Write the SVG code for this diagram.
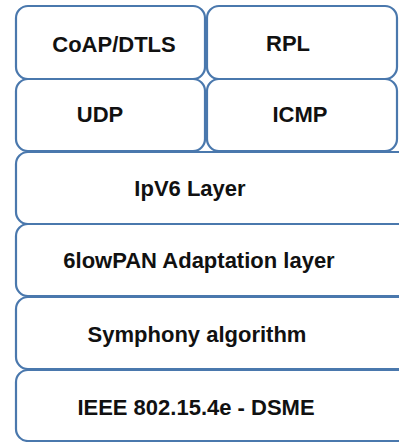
<svg xmlns="http://www.w3.org/2000/svg" width="399" height="442" viewBox="0 0 399 442">
<style>
.box{fill:#ffffff;stroke:#4a78ad;stroke-width:2.2}
.lbl{font-family:"Liberation Sans",Arial,sans-serif;font-weight:bold;font-size:22px;fill:#111111;text-anchor:middle}
</style>
<rect width="399" height="442" fill="#ffffff"/>
<g id="coap"><rect class="box" x="16" y="6" width="189" height="73" rx="12"/><text class="lbl" x="114" y="52">CoAP/DTLS</text></g>
<g id="rpl"><rect class="box" x="207" y="6" width="190" height="73" rx="12"/><text class="lbl" x="288" y="51">RPL</text></g>
<g id="udp"><rect class="box" x="16" y="79" width="189" height="72" rx="12"/><text class="lbl" x="100" y="122">UDP</text></g>
<g id="icmp"><rect class="box" x="207" y="79" width="190" height="72" rx="12"/><text class="lbl" x="300" y="122">ICMP</text></g>
<g id="ipv6"><rect class="box" x="16" y="152" width="400" height="72" rx="12"/><text class="lbl" x="190" y="196">IpV6 Layer</text></g>
<g id="sixlowpan"><rect class="box" x="16" y="224" width="400" height="72" rx="12"/><text class="lbl" x="199" y="268">6lowPAN Adaptation layer</text></g>
<g id="symphony"><rect class="box" x="16" y="297" width="400" height="72" rx="12"/><text class="lbl" x="197" y="342">Symphony algorithm</text></g>
<g id="dsme"><rect class="box" x="16" y="370" width="400" height="71" rx="12"/><text class="lbl" x="196" y="415">IEEE 802.15.4e - DSME</text></g>
<g id="connectors"></g>
</svg>
